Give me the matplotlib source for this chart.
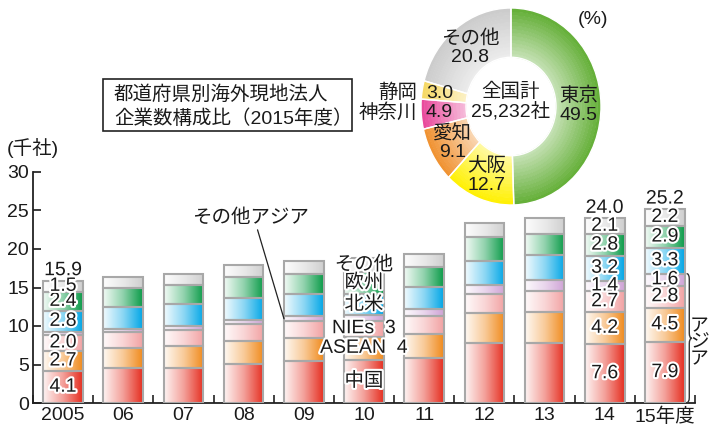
import numpy as np
import matplotlib
matplotlib.use("Agg")
import matplotlib.pyplot as plt
from matplotlib.colors import LinearSegmentedColormap, to_rgb
from matplotlib.patches import Rectangle, PathPatch
from matplotlib.path import Path
import matplotlib.patheffects as pe

plt.rcParams['font.family'] = ['Liberation Sans', 'Noto Sans CJK JP']

# ---- data: overseas subsidiaries by region (thousand companies) ----
years = ['2005', '06', '07', '08', '09', '10', '11', '12', '13', '14', '15年度']
china = [4.1, 4.5, 4.6, 5.1, 5.4, 5.6, 5.9, 7.8, 7.8, 7.6, 7.9]
asean4 = [2.7, 2.7, 2.8, 2.9, 3.1, 3.0, 3.1, 3.9, 4.0, 4.2, 4.5]
nies3 = [2.0, 2.0, 2.1, 2.3, 2.1, 2.1, 2.3, 2.5, 2.8, 2.7, 2.8]
other_asia = [0.4, 0.4, 0.5, 0.5, 0.7, 0.7, 0.9, 1.1, 1.4, 1.4, 1.6]
north_america = [2.8, 2.9, 2.9, 2.9, 2.9, 2.8, 2.9, 3.2, 3.2, 3.2, 3.3]
europe = [2.4, 2.4, 2.4, 2.6, 2.5, 2.8, 2.6, 3.0, 2.7, 2.8, 2.9]
others = [1.5, 1.5, 1.4, 1.6, 1.7, 1.8, 1.6, 1.9, 2.1, 2.1, 2.2]

region_names = ['中国', 'ASEAN  4', 'NIEs  3', 'その他アジア', '北米', '欧州', 'その他']
labelled_years = [0, 9, 10]

# ---- data: 2015 share by prefecture (%) ----
pref_names = ['東京', '大阪', '愛知', '神奈川', '静岡', 'その他']
pref_share = [49.5, 12.7, 9.1, 4.9, 3.0, 20.8]
national_total = '25,232社'

seg_colors = ['#e52d1f', '#f08a1c', '#f2a2a3', '#cfa3d6', '#00a6e6', '#0a9b48', '#cfcfcf']
pref_colors = ['#62ae35', '#fff000', '#f0902e', '#e8479a', '#f6d862', '#cbcbcb']

W, H = 709, 426
fig = plt.figure(figsize=(W / 100, H / 100), dpi=100)


def fx(px):
    return px / W


def fy(py):
    return 1 - py / H


def blend(c, t):
    r = np.array(to_rgb(c))
    return tuple(1 - t * (1 - r))


halo = [pe.withStroke(linewidth=3, foreground='white')]

# ---------------- stacked bar chart ----------------
ax = fig.add_axes([fx(33), fy(403), fx(695 - 33), (403 - 172) / H])
x = np.arange(len(years))
series = [china, asean4, nies3, other_asia, north_america, europe, others]
bottom = np.zeros(len(years))
grad = np.linspace(0, 1, 256).reshape(1, -1)
containers = []
for vals, col in zip(series, seg_colors):
    bars = ax.bar(x, vals, width=0.66, bottom=bottom, facecolor='none',
                  edgecolor='#a8a8a8', linewidth=1.5, zorder=3)
    cmap = LinearSegmentedColormap.from_list('g', [blend(col, 0.05), blend(col, 0.45), col])
    for rect in bars:
        x0, y0 = rect.get_x(), rect.get_y()
        ax.imshow(grad, extent=(x0, x0 + rect.get_width(), y0, y0 + rect.get_height()),
                  cmap=cmap, aspect='auto', interpolation='bilinear', zorder=2)
    containers.append((bars, vals, bottom.copy()))
    bottom = bottom + np.array(vals)

# value labels for selected years
for bars, vals, bots in containers:
    for i in labelled_years:
        if vals[i] >= 1.0:
            ax.text(x[i], bots[i] + vals[i] / 2, f'{vals[i]:.1f}', ha='center', va='center',
                    fontsize=14, color='#1a1a1a', zorder=5, path_effects=halo)
for i in labelled_years:
    ax.annotate(f'{bottom[i]:.1f}', (x[i], bottom[i]), xytext=(0, 1), textcoords='offset points',
                ha='center', va='bottom', fontsize=14, color='#1a1a1a', zorder=6,
                path_effects=halo)

# region names written over the 2010 bar
k = 5
for j, (bars, vals, bots) in enumerate(containers):
    if j == 3:
        continue
    ax.text(x[k], bots[k] + vals[k] / 2, region_names[j], ha='center', va='center',
            fontsize=14, color='#1a1a1a', zorder=5, path_effects=halo)

# その他アジア callout to the 2009 bar
kk = 4
bars_oa, vals_oa, bots_oa = containers[3]
rect = bars_oa[kk]
ax.annotate(region_names[3], xy=(rect.get_x(), bots_oa[kk] + vals_oa[kk] / 2),
            xytext=(3.12, 24.0), textcoords='data', ha='center', va='center', fontsize=14,
            color='#1a1a1a', zorder=5,
            arrowprops=dict(arrowstyle='-', color='#222222', lw=0.9, shrinkA=0, shrinkB=0,
                            relpos=(0.55, 0.0)))

# brace marking the Asian part of the 2015 bar
asia_top = china[-1] + asean4[-1] + nies3[-1] + other_asia[-1]
bx, bw, d = 10.36, 0.09, 0.7
ym = asia_top / 2
verts = [(bx, asia_top), (bx + bw / 2, asia_top), (bx + bw / 2, asia_top - d),
         (bx + bw / 2, ym + d),
         (bx + bw / 2, ym), (bx + bw, ym),
         (bx + bw / 2, ym), (bx + bw / 2, ym - d),
         (bx + bw / 2, d),
         (bx + bw / 2, 0.05), (bx, 0.05)]
codes = [Path.MOVETO, Path.CURVE3, Path.CURVE3, Path.LINETO, Path.CURVE3, Path.CURVE3,
         Path.CURVE3, Path.CURVE3, Path.LINETO, Path.CURVE3, Path.CURVE3]
ax.add_patch(PathPatch(Path(verts, codes), fill=False, edgecolor='#333333', lw=1.0,
                       clip_on=False, zorder=4))
fig.text(fx(690), fy(343), 'ア\nジ\nア', ha='left', va='center', fontsize=13.5,
         linespacing=0.95, color='#1a1a1a')

ax.set_xlim(-0.5, 10.5)
ax.set_ylim(0, 30)
ax.set_yticks(np.arange(0, 31, 5))
ax.set_xticks(x)
ax.set_xticklabels(years)
ax.set_xticks(np.arange(-0.5, 10.6, 1), minor=True)
ax.tick_params(axis='x', which='major', length=0, pad=3, labelsize=14, colors='#1a1a1a')
ax.tick_params(axis='x', which='minor', length=6, width=1.2, direction='in', color='#222222')
ax.tick_params(axis='y', length=6, width=1.2, direction='in', pad=3, labelsize=14,
               colors='#1a1a1a')
for s in ['top', 'right']:
    ax.spines[s].set_visible(False)
for s in ['left', 'bottom']:
    ax.spines[s].set_linewidth(1.3)
    ax.spines[s].set_color('#222222')

fig.text(fx(7), fy(148), '(千社)', ha='left', va='center', fontsize=14, color='#1a1a1a')

# ---------------- title box ----------------
fig.patches.append(Rectangle((fx(103), fy(131)), fx(352 - 103), (131 - 79) / H,
                             transform=fig.transFigure, fill=False, edgecolor='#222222',
                             lw=1.2))
fig.text(fx(114), fy(95), '都道府県別海外現地法人', ha='left', va='center', fontsize=14,
         color='#1a1a1a')
fig.text(fx(114), fy(119), '企業数構成比（2015年度）', ha='left', va='center', fontsize=14,
         color='#1a1a1a')

# ---------------- donut chart ----------------
dax = fig.add_axes([fx(421), fy(205), fx(180), 197 / H])
inner, outer, nb = 0.5, 1.0, 14
for b in range(nb):
    r = inner + (b + 1) * (outer - inner) / nb
    t = 0.35 + 0.65 * (b + 0.5) / nb
    dax.pie(pref_share, radius=r, startangle=90, counterclock=False,
            colors=[blend(c, t) for c in pref_colors],
            wedgeprops=dict(width=(outer - inner) / nb + 0.005, linewidth=0))
dax.pie(pref_share, radius=outer, startangle=90, counterclock=False,
        colors=['none'] * len(pref_share),
        wedgeprops=dict(width=outer - inner, edgecolor='white', linewidth=1.0))
dax.set_aspect('auto')
dax.set_xlim(-1, 1)
dax.set_ylim(-1, 1)
dax.axis('off')

cum = np.cumsum([0] + pref_share[:-1])
for name, val, c0 in zip(pref_names, pref_share, cum):
    ang = np.deg2rad(90 - (c0 + val / 2) * 3.6)
    if val < 6:
        r = 0.8
        tx, ty = r * np.cos(ang), r * np.sin(ang)
        dax.text(tx, ty, f'{val:.1f}', ha='center', va='center', fontsize=14, color='#1a1a1a')
        dax.text(-1.04, ty, name, ha='right', va='center', fontsize=14, color='#1a1a1a')
    else:
        r = 0.75
        tx, ty = r * np.cos(ang), r * np.sin(ang)
        dax.text(tx, ty, f'{name}\n{val:.1f}', ha='center', va='center', fontsize=14,
                 color='#1a1a1a', linespacing=1.1)
dax.text(0, 0.05, f'全国計\n{national_total}', ha='center', va='center', fontsize=14,
         color='#1a1a1a', linespacing=1.1)
fig.text(fx(593), fy(20), '(%)', ha='center', va='center', fontsize=14, color='#1a1a1a')

fig.savefig('out.png', dpi=100)
